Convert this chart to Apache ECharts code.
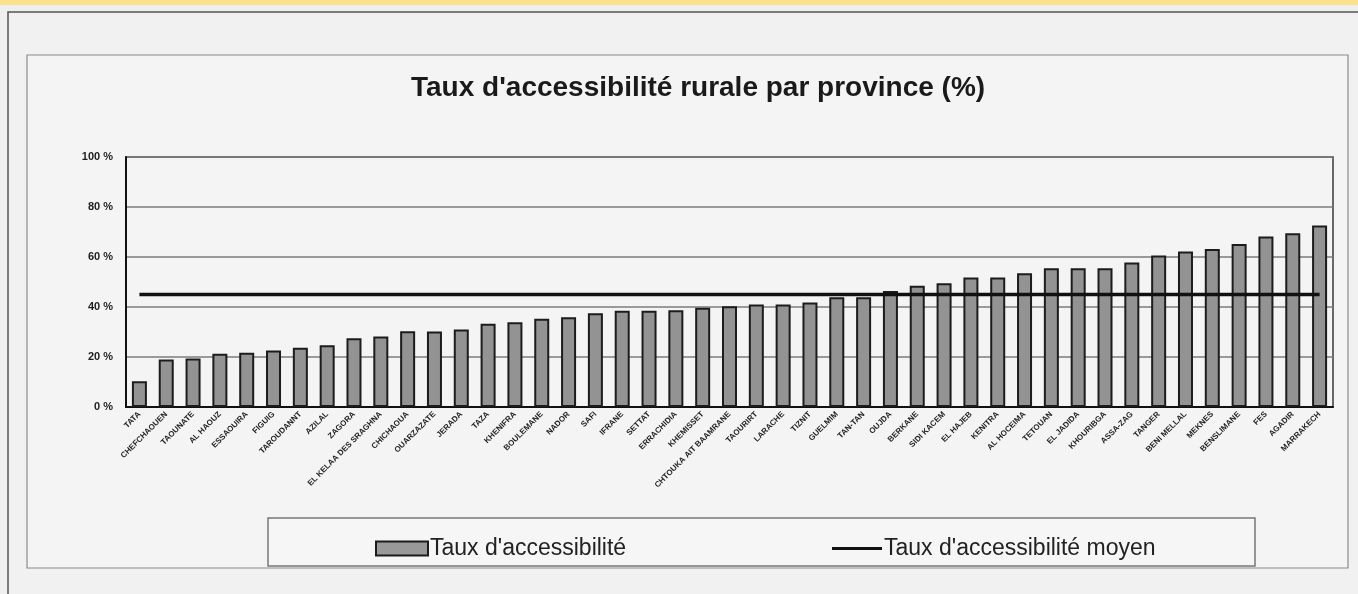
<!DOCTYPE html>
<html>
<head>
<meta charset="utf-8">
<title>Taux d'accessibilité rurale par province</title>
<script src="https://cdn.jsdelivr.net/npm/echarts@6/dist/echarts.min.js"></script>
<style>
  html, body { margin: 0; padding: 0; background: #efefef; }
  #chart { width: 1358px; height: 594px; }
</style>
</head>
<body>
<div id="chart"></div>
<script>
// Provinces, sorted by rural accessibility rate
const provinces = [
  'TATA', 'CHEFCHAOUEN', 'TAOUNATE', 'AL HAOUZ', 'ESSAOUIRA', 'FIGUIG',
  'TAROUDANNT', 'AZILAL', 'ZAGORA', 'EL KELAA DES SRAGHNA', 'CHICHAOUA',
  'OUARZAZATE', 'JERADA', 'TAZA', 'KHENIFRA', 'BOULEMANE', 'NADOR', 'SAFI',
  'IFRANE', 'SETTAT', 'ERRACHIDIA', 'KHEMISSET', 'CHTOUKA AIT BAAMRANE',
  'TAOURIRT', 'LARACHE', 'TIZNIT', 'GUELMIM', 'TAN-TAN', 'OUJDA', 'BERKANE',
  'SIDI KACEM', 'EL HAJEB', 'KENITRA', 'AL HOCEIMA', 'TETOUAN', 'EL JADIDA',
  'KHOURIBGA', 'ASSA-ZAG', 'TANGER', 'BENI MELLAL', 'MEKNES', 'BENSLIMANE',
  'FES', 'AGADIR', 'MARRAKECH'
];

// Accessibility rate per province (%)
const accessRate = [
  10.3, 19.0, 19.4, 21.3, 21.7, 22.6, 23.7, 24.7, 27.5, 28.2, 30.3, 30.2,
  31.0, 33.3, 33.9, 35.3, 35.9, 37.5, 38.5, 38.5, 38.7, 39.7, 40.3, 41.0,
  41.0, 41.8, 43.9, 43.9, 46.4, 48.5, 49.5, 51.8, 51.8, 53.5, 55.5, 55.5,
  55.5, 57.8, 60.6, 62.2, 63.2, 65.2, 68.2, 69.5, 72.6
];

// National average rate (%)
const averageRate = 45;
const averageLine = provinces.map(() => averageRate);

const yTicks = { min: 0, max: 100, step: 20 };

const seriesNames = ["Taux d'accessibilité", "Taux d'accessibilité moyen"];
const titleText = "Taux d'accessibilité rurale par province (%)";

const FONT = 'Liberation Sans, Arial, sans-serif';

const chart = echarts.init(document.getElementById('chart'), null, { renderer: 'canvas' });

chart.setOption({
  backgroundColor: '#efefef',
  animation: false,
  title: {
    text: titleText,
    left: 406,
    top: 69,
    textStyle: { fontFamily: FONT, fontSize: 28, fontWeight: 'bold', color: '#1a1a1a' }
  },
  graphic: [
    // yellow band along the top edge
    { type: 'rect', z: -10, shape: { x: 0, y: 0, width: 1358, height: 5 }, style: { fill: '#fde28c' } },
    // outer page frame
    { type: 'rect', z: -10, shape: { x: 9, y: 13, width: 1349, height: 581 }, style: { fill: '#f1f1f1' } },
    { type: 'polyline', z: -9, shape: { points: [[8, 594], [8, 12], [1358, 12]] },
      style: { stroke: '#555', lineWidth: 1.5, fill: null } },
    // chart frame
    { type: 'rect', z: -8, shape: { x: 27, y: 55, width: 1321, height: 513 },
      style: { fill: '#f4f4f4', stroke: '#8a8a8a', lineWidth: 1.2 } },
    // legend frame
    { type: 'rect', z: -7, shape: { x: 268, y: 518, width: 987, height: 48 },
      style: { fill: '#f6f6f6', stroke: '#777', lineWidth: 1.5 } }
  ],
  legend: [
    {
      data: [{ name: seriesNames[0], icon: 'rect' }],
      left: 370, top: 532,
      itemWidth: 52, itemHeight: 14, itemGap: 0,
      itemStyle: { color: '#999', borderColor: '#1c1c1c', borderWidth: 2 },
      textStyle: { fontFamily: FONT, fontSize: 23, color: '#222', padding: [0, 0, 0, -3] }
    },
    {
      data: [{ name: seriesNames[1], icon: 'rect' }],
      left: 827, top: 532,
      itemWidth: 50, itemHeight: 3, itemGap: 0,
      itemStyle: { color: '#111', borderWidth: 0 },
      textStyle: { fontFamily: FONT, fontSize: 23, color: '#222', padding: [0, 0, 0, -3] }
    }
  ],
  grid: {
    left: 126, right: 25, top: 157, bottom: 187,
    show: true, borderColor: '#3a3a3a', borderWidth: 1.5, backgroundColor: '#f4f4f4'
  },
  xAxis: {
    type: 'category',
    data: provinces,
    axisLine: { lineStyle: { color: '#111', width: 2 } },
    axisTick: { show: false },
    axisLabel: {
      interval: 0, rotate: 45, margin: 6,
      fontFamily: FONT, fontSize: 8, fontWeight: 'bold', color: '#222'
    }
  },
  yAxis: {
    type: 'value',
    min: yTicks.min, max: yTicks.max, interval: yTicks.step,
    axisLine: { show: true, lineStyle: { color: '#111', width: 2 } },
    axisTick: { show: false },
    splitLine: { lineStyle: { color: '#7c7c7c', width: 1.5 } },
    axisLabel: {
      margin: 13,
      fontFamily: FONT, fontSize: 11, fontWeight: 'bold', color: '#1e1e1e',
      formatter: v => v + ' %'
    }
  },
  series: [
    {
      name: seriesNames[0],
      type: 'bar',
      data: accessRate,
      barWidth: 15,
      itemStyle: { color: '#939393', borderColor: '#1c1c1c', borderWidth: 2 }
    },
    {
      name: seriesNames[1],
      type: 'line',
      data: averageLine,
      symbol: 'none',
      z: 5,
      lineStyle: { color: '#111', width: 3.5 },
      itemStyle: { color: '#111' }
    }
  ]
});
</script>
</body>
</html>
